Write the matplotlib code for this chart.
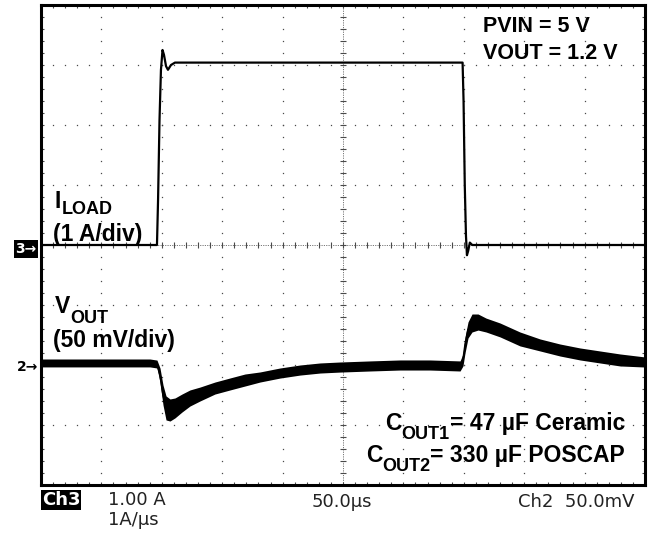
"""Load transient scope capture: ILOAD step (1 A/div) and VOUT response (50 mV/div)."""

import matplotlib

matplotlib.use("Agg")
import matplotlib.pyplot as plt
import numpy as np

# ---------------------------------------------------------------------------
# Data (time in us, 50 us/div, 10 divisions)
# ---------------------------------------------------------------------------
iload_t = [0.0, 96.0, 96.9, 98.1, 99.3, 100.6, 101.8, 103.5, 105.1, 107.6, 110.9,
           349.0, 349.8, 350.8, 351.8, 352.6, 353.6, 355.0, 357.0, 500.0]
iload_a = [0.0, 0.0, 0.75, 2.08, 2.92, 3.25, 3.17, 2.98, 2.92, 3.0, 3.04,
           3.04, 2.4, 1.0, 0.15, -0.17, -0.1, 0.04, 0.0, 0.0]

# VOUT: centre of the noisy trace and half-height of its noise band, mV
vout_t = [0.0, 90.2, 96.0, 98.5, 101.0, 103.5, 106.8, 110.9, 116.7, 123.3, 131.6,
          144.0, 156.5, 168.9, 181.3, 197.8, 214.4, 231.0, 247.5, 272.4, 297.2,
          322.0, 346.9, 349.3, 351.0, 353.5, 356.8, 361.8, 368.4, 380.0, 396.5,
          413.1, 429.6, 446.2, 462.7, 479.3, 500.0]
vout_mv = [1.7, 1.7, 0.8, -8.3, -25.0, -35.8, -37.5, -35.8, -31.7, -27.5, -24.2,
           -19.2, -15.8, -12.5, -10.0, -6.7, -4.2, -2.5, -1.7, -0.8, 0.0,
           0.0, -0.8, 4.2, 16.7, 29.2, 35.0, 35.8, 33.3, 29.2, 21.7,
           16.7, 12.5, 9.2, 6.7, 4.2, 2.5]
vout_noise = [3.3, 3.3, 3.3, 5.8, 8.3, 10.0, 9.2, 8.3, 7.5, 6.7, 5.8,
              5.0, 5.0, 5.0, 4.2, 4.2, 4.2, 4.2, 4.2, 4.2, 4.2,
              4.2, 4.2, 5.0, 6.7, 6.7, 7.5, 6.7, 5.8, 5.8, 5.8,
              5.0, 5.0, 5.0, 5.0, 5.0, 4.2]

AMPS_PER_DIV = 1.0
MV_PER_DIV = 50.0
ILOAD_REF_DIV = 4.0   # channel 3 ground marker
VOUT_REF_DIV = 2.0    # channel 2 ground marker

W, H = 653, 533


def fx(x):
    return x / W


def fy(y_top):
    return 1 - y_top / H


fig = plt.figure(figsize=(W / 100, H / 100), dpi=100)
ax = fig.add_axes([41 / W, 48 / H, 604 / W, 480 / H])
ax.set_xlim(0, 500)
ax.set_ylim(0, 8)

# graticule: dots every 0.2 div on each division line
grid_col = "#4a4a4a"
for xv in np.arange(50, 500, 50):
    if xv == 250:
        continue
    yy = np.arange(0, 8.001, 0.2)
    ax.plot(np.full_like(yy, xv), yy, ls="none", marker="s", ms=0.9, color=grid_col, mew=0, zorder=1)
for yv in range(1, 8):
    if yv == 4:
        continue
    xx = np.arange(0, 500.001, 10)
    ax.plot(xx, np.full_like(xx, yv), ls="none", marker="s", ms=0.9, color=grid_col, mew=0, zorder=1)

# centre crosshair with minor ticks
ax.plot([250, 250], [0, 8], color="#777777", lw=0.7, ls=(0, (1.2, 1.2)), zorder=1)
ax.plot([0, 500], [4, 4], color="#777777", lw=0.7, ls=(0, (1.2, 1.2)), zorder=1)
yy = np.arange(0, 8.001, 0.2)
ax.plot(np.full_like(yy, 250), yy, ls="none", marker="_", ms=4.5, mew=0.8, color=grid_col, zorder=1)
xx = np.arange(0, 500.001, 10)
ax.plot(xx, np.full_like(xx, 4), ls="none", marker="|", ms=4.5, mew=0.8, color=grid_col, zorder=1)

# traces
iload_div = ILOAD_REF_DIV + np.asarray(iload_a) / AMPS_PER_DIV
ax.plot(iload_t, iload_div, color="black", lw=1.6, zorder=3)

vc = VOUT_REF_DIV + np.asarray(vout_mv) / MV_PER_DIV
vn = np.asarray(vout_noise) / MV_PER_DIV
ax.fill_between(vout_t, vc - vn, vc + vn, color="black", lw=0, zorder=3)
ax.plot(vout_t, vc, color="black", lw=1.2, zorder=3)

# frame
for sp in ax.spines.values():
    sp.set_linewidth(2.2)
    sp.set_color("black")
ax.set_xticks(np.arange(0, 501, 50))
ax.set_xticks(np.arange(0, 501, 10), minor=True)
ax.set_yticks(np.arange(0, 8.01, 1))
ax.set_yticks(np.arange(0, 8.01, 0.2), minor=True)
ax.tick_params(which="both", direction="in", length=2.5, width=0.8, color=grid_col,
               top=True, right=True, labelbottom=False, labelleft=False)

# annotation labels
bold = dict(family="Liberation Sans", weight="bold", color="black")
TOP, MAIN, SUB = 15.5, 16.5, 13.0

fig.text(fx(483), fy(32), "PVIN = 5 V", fontsize=TOP, va="baseline", **bold)
fig.text(fx(483), fy(59), "VOUT = 1.2 V", fontsize=TOP, va="baseline", **bold)


def sub_label(x, y_main, y_sub, main, sub):
    t = fig.text(fx(x), fy(y_main), main, fontsize=MAIN, va="baseline", **bold)
    return ax.annotate(sub, xy=(1.0, H - y_sub), xycoords=(t, "figure pixels"),
                       fontsize=SUB, va="baseline", ha="left", **bold)


sub_label(55, 208, 214, "I", "LOAD")
fig.text(fx(53), fy(241), "(1 A/div)", fontsize=MAIN, va="baseline", **bold)
sub_label(55, 313, 323, "V", "OUT")
fig.text(fx(53), fy(347), "(50 mV/div)", fontsize=MAIN, va="baseline", **bold)


def cout_label(y_main, y_sub, sub, rest):
    t = fig.text(fx(625), fy(y_main), rest, fontsize=MAIN, va="baseline", ha="right", **bold)
    s = ax.annotate(sub, xy=(0.0, H - y_sub), xycoords=(t, "figure pixels"),
                    fontsize=SUB, va="baseline", ha="right", **bold)
    ax.annotate("C", xy=(0.0, H - y_main), xycoords=(s, "figure pixels"),
                fontsize=MAIN, va="baseline", ha="right", **bold)


cout_label(430, 439, "OUT1", "= 47 µF Ceramic")
cout_label(462, 471, "OUT2", "= 330 µF POSCAP")

# channel ground markers
fig.text(fx(26), fy(249), "3\u2192", fontsize=10, weight="bold", color="white",
         ha="center", va="center", family="DejaVu Sans",
         bbox=dict(boxstyle="square,pad=0.12", fc="black", ec="none"))
fig.text(fx(28), fy(367), "2\u2192", fontsize=10, weight="bold", color="black",
         ha="center", va="center", family="DejaVu Sans")

# scope readout
ro = dict(family="DejaVu Sans", fontsize=13, color="#222222", va="baseline")
fig.text(fx(61), fy(500), "Ch3", family="DejaVu Sans", fontsize=13, color="white",
         weight="bold", ha="center", va="center",
         bbox=dict(boxstyle="square,pad=0.05", fc="black", ec="none"))
fig.text(fx(108), fy(505), "1.00 A", **ro)
fig.text(fx(108), fy(525), "1A/µs", **ro)
fig.text(fx(312), fy(507), "50.0µs", **ro)
fig.text(fx(518), fy(507), "Ch2  50.0mV", **ro)

fig.savefig("out.png", dpi=100)
